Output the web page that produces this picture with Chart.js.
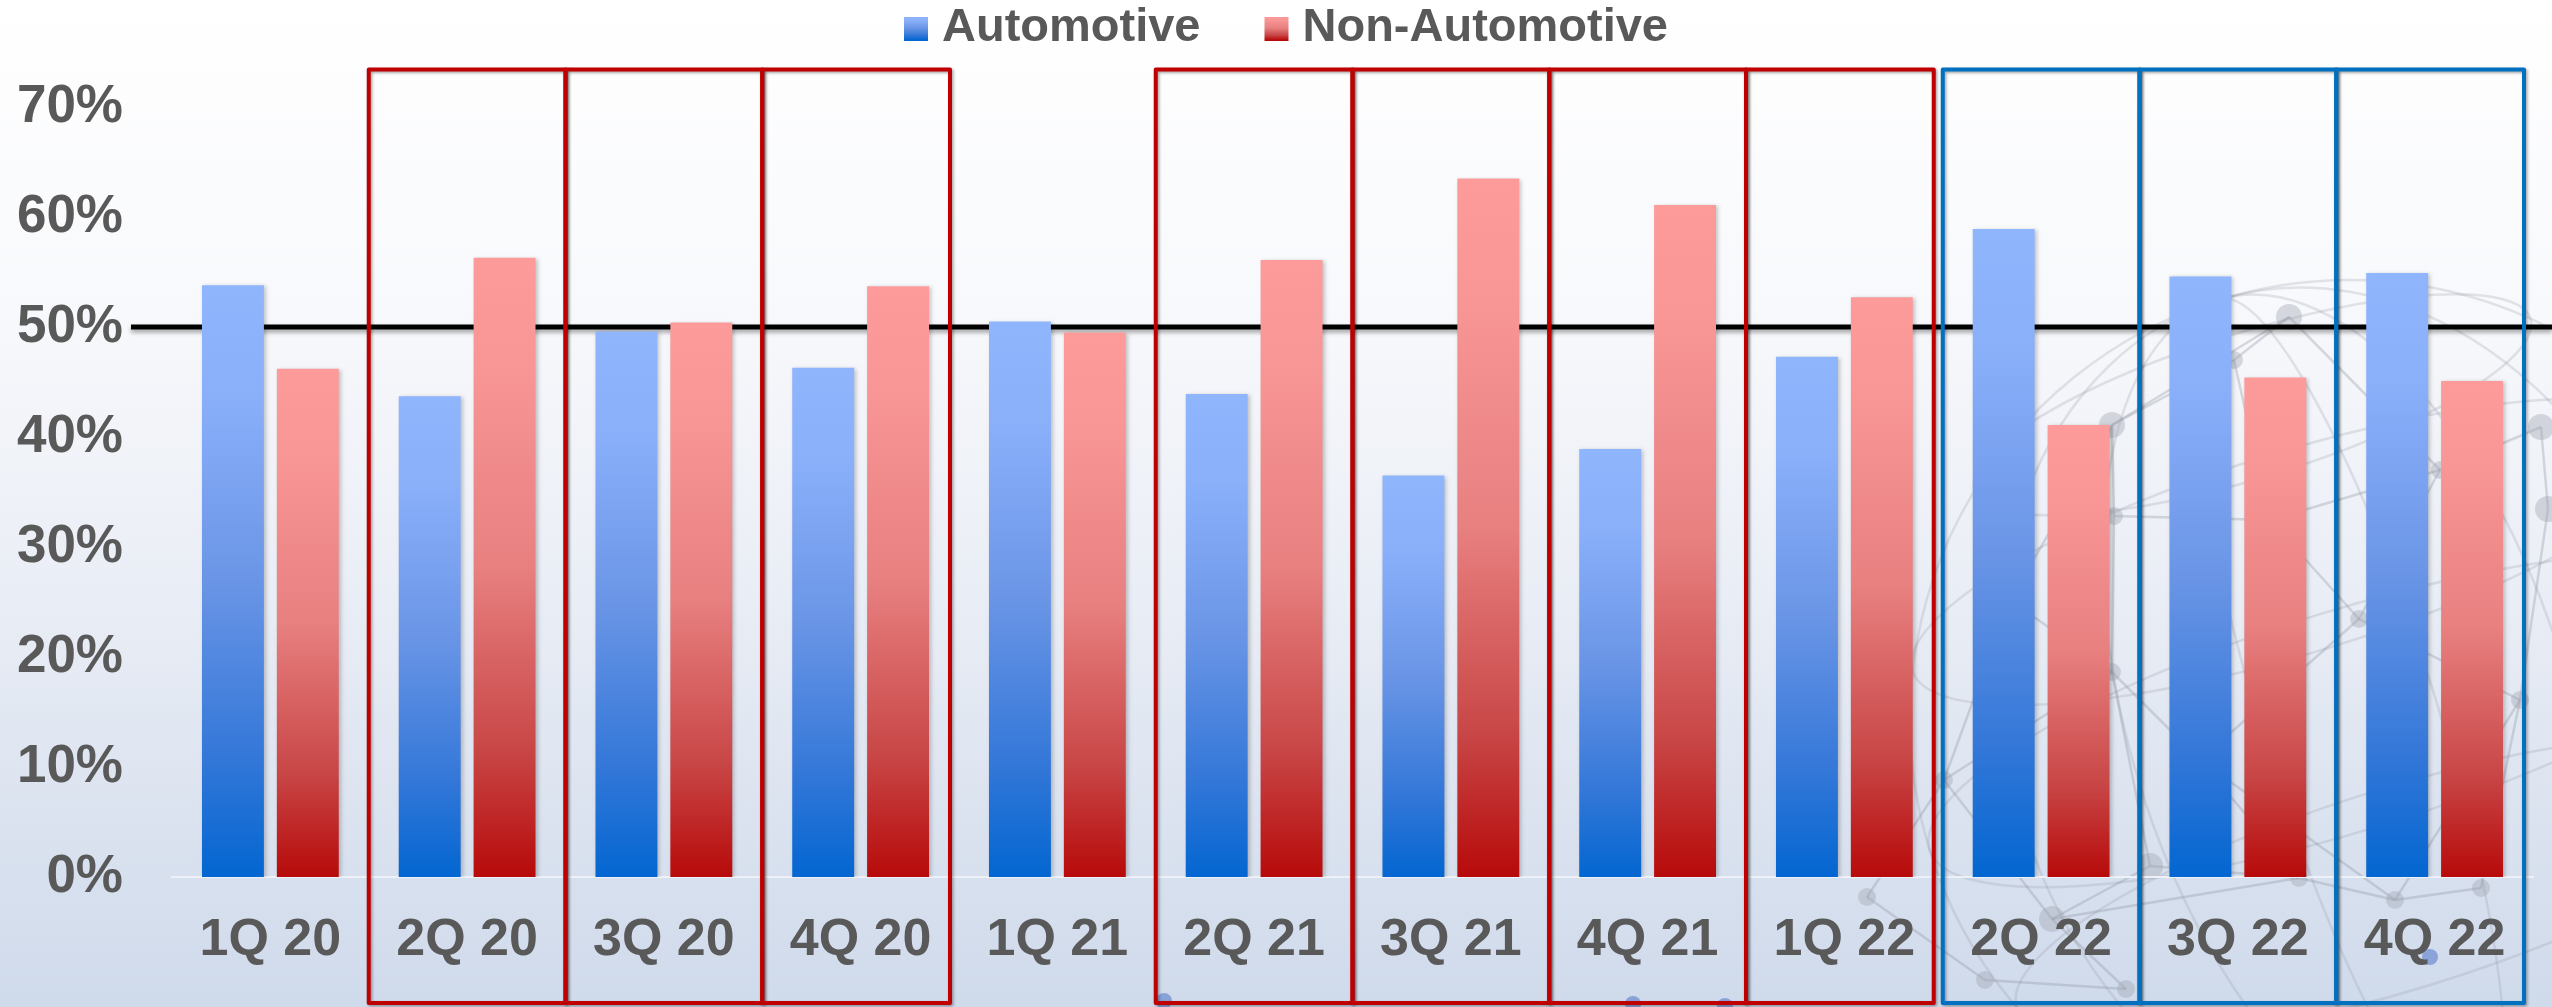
<!DOCTYPE html>
<html>
<head>
<meta charset="utf-8">
<script src="https://cdn.jsdelivr.net/npm/chart.js@4/dist/chart.umd.min.js"></script>
<style>
  html, body { margin: 0; padding: 0; background: #ffffff; }
  #wrap { width: 2552px; height: 1007px; position: relative; }
</style>
</head>
<body>
<div id="wrap"><canvas id="chart" width="2552" height="1007"></canvas></div>
<script>
// Quarterly revenue mix, automotive vs. non-automotive (% of total)
const quarters = ['1Q 20', '2Q 20', '3Q 20', '4Q 20', '1Q 21', '2Q 21', '3Q 21', '4Q 21', '1Q 22', '2Q 22', '3Q 22', '4Q 22'];
const automotive    = [53.8, 43.7, 49.6, 46.3, 50.5, 43.9, 36.5, 38.9, 47.3, 58.9, 54.6, 54.9];
const nonAutomotive = [46.2, 56.3, 50.4, 53.7, 49.5, 56.1, 63.5, 61.1, 52.7, 41.1, 45.4, 45.1];
const seriesNames = ['Automotive', 'Non-Automotive'];
const yTickValues = [0, 10, 20, 30, 40, 50, 60, 70];
const parityLevel = 50;
// Highlighted quarters
const redFramed  = ['2Q 20', '3Q 20', '4Q 20', '2Q 21', '3Q 21', '4Q 21', '1Q 22'];
const blueFramed = ['2Q 22', '3Q 22', '4Q 22'];
const frameTopValue = 73.4;

const FONT = '"Liberation Sans", Arial, Helvetica, sans-serif';
const TEXT = '#595959';

const blueStops = [[0, '#8fb5fd'], [0.18, '#8ab0fa'], [0.5, '#6a95e6'], [0.8, '#3377d8'], [1, '#0366d1']];
const redStops  = [[0, '#fd9b9b'], [0.18, '#f89595'], [0.5, '#e88080'], [0.8, '#c84545'], [1, '#b70a0a']];

function barFill(stops, solid) {
  return (c) => {
    const chart = c.chart;
    if (!chart.chartArea || c.type !== 'data') return solid;
    const y = chart.scales.y;
    const top = y.getPixelForValue(c.raw);
    const base = y.getPixelForValue(0);
    const g = chart.ctx.createLinearGradient(0, top, 0, base);
    stops.forEach(([o, col]) => g.addColorStop(o, col));
    return g;
  };
}

// Decorative network globe in the lower right of the page
const globeNodes = [
  [2112, 425], [2114, 516], [2112, 672], [2289, 317], [2234, 360], [2359, 619],
  [2541, 427], [2395, 900], [2299, 878], [2150, 866], [1944, 780], [1867, 897],
  [2052, 919], [2126, 989], [2481, 888], [2548, 509], [2010, 600], [2440, 470],
  [2200, 760], [1985, 980], [2520, 700], [2270, 520]
];
const globeEdges = [
  [0, 1], [1, 2], [0, 4], [4, 3], [3, 17], [17, 6], [6, 15], [1, 21], [21, 5], [5, 17],
  [2, 18], [18, 5], [5, 20], [20, 14], [14, 7], [7, 8], [8, 9], [9, 12], [12, 13], [13, 19],
  [19, 11], [11, 10], [10, 16], [16, 0], [16, 2], [2, 9], [18, 8], [18, 7], [20, 15], [4, 21],
  [10, 12], [12, 8], [0, 3], [21, 17], [2, 10], [7, 20]
];
const accentDots = [[1164, 1001], [1633, 1004], [1725, 1006], [2430, 957]];

const backdrop = {
  id: 'backdrop',
  beforeDraw(chart) {
    const ctx = chart.ctx, W = chart.width, H = chart.height;
    ctx.save();
    const g = ctx.createLinearGradient(0, 0, 0, H);
    g.addColorStop(0, '#ffffff');
    g.addColorStop(0.3, '#f8f9fc');
    g.addColorStop(0.6, '#e9edf5');
    g.addColorStop(1, '#cfdaeb');
    ctx.fillStyle = g;
    ctx.fillRect(0, 0, W, H);

    // sphere wireframe
    ctx.save();
    ctx.translate(2350, 720);
    ctx.rotate(-0.3);
    const r = 440;
    ctx.strokeStyle = 'rgba(150,156,168,0.25)';
    ctx.lineWidth = 2.5;
    ctx.beginPath(); ctx.arc(0, 0, r, 0, Math.PI * 2); ctx.stroke();
    [0.2, 0.5, 0.78].forEach(k => {
      ctx.beginPath(); ctx.ellipse(0, 0, r * k, r, 0, 0, Math.PI * 2); ctx.stroke();
    });
    [-0.75, -0.4, 0, 0.4].forEach(k => {
      const yy = r * k, rx = Math.sqrt(r * r - yy * yy);
      ctx.beginPath(); ctx.ellipse(0, yy, rx, rx * 0.25, 0, 0, Math.PI * 2); ctx.stroke();
    });
    ctx.restore();

    // network links and nodes
    ctx.strokeStyle = 'rgba(140,146,158,0.32)';
    ctx.lineWidth = 2.5;
    globeEdges.forEach(([a, b]) => {
      ctx.beginPath();
      ctx.moveTo(globeNodes[a][0], globeNodes[a][1]);
      ctx.lineTo(globeNodes[b][0], globeNodes[b][1]);
      ctx.stroke();
    });
    ctx.fillStyle = 'rgba(160,166,178,0.4)';
    globeNodes.forEach(([x, y], i) => {
      ctx.beginPath(); ctx.arc(x, y, i % 3 === 0 ? 13 : 9, 0, Math.PI * 2); ctx.fill();
    });
    ctx.fillStyle = 'rgba(90,125,205,0.6)';
    accentDots.forEach(([x, y]) => {
      ctx.beginPath(); ctx.arc(x, y, 8, 0, Math.PI * 2); ctx.fill();
    });
    ctx.restore();
  }
};

// Horizontal 50% reference line, behind the bars
const parityLine = {
  id: 'parityLine',
  beforeDatasetsDraw(chart) {
    const ctx = chart.ctx, y = chart.scales.y.getPixelForValue(parityLevel);
    ctx.save();
    ctx.shadowColor = 'rgba(0,0,0,0.35)';
    ctx.shadowBlur = 4;
    ctx.shadowOffsetY = 3;
    ctx.strokeStyle = '#000000';
    ctx.lineWidth = 5;
    ctx.beginPath();
    ctx.moveTo(chart.chartArea.left - 41, y);
    ctx.lineTo(chart.width, y);
    ctx.stroke();
    ctx.restore();
    // soft drop shadow for the bars
    ctx.save();
    ctx.shadowColor = 'rgba(0,0,0,0.22)';
    ctx.shadowBlur = 4;
    ctx.shadowOffsetX = 2;
    ctx.shadowOffsetY = 1;
  },
  afterDatasetsDraw(chart) {
    chart.ctx.restore();
  }
};

// Frames around highlighted quarters
function drawFrames(chart, labels, color) {
  const ctx = chart.ctx, x = chart.scales.x, y = chart.scales.y;
  const half = (x.getPixelForValue(1) - x.getPixelForValue(0)) / 2;
  const top = y.getPixelForValue(frameTopValue);
  const bottom = chart.height - 4;
  ctx.save();
  ctx.strokeStyle = color;
  ctx.lineWidth = 4;
  ctx.lineJoin = 'round';
  ctx.shadowColor = 'rgba(0,0,0,0.35)';
  ctx.shadowBlur = 3;
  ctx.shadowOffsetX = 1.5;
  ctx.shadowOffsetY = 1.5;
  labels.forEach(lbl => {
    const i = quarters.indexOf(lbl);
    const endsRun = !labels.includes(quarters[i + 1]);
    const cxp = x.getPixelForValue(i);
    const l = cxp - half;
    const r = cxp + half - (endsRun ? 9 : 0);
    ctx.strokeRect(l, top, r - l, bottom - top);
  });
  ctx.restore();
}

const frames = {
  id: 'frames',
  afterDraw(chart) {
    drawFrames(chart, redFramed, '#c00000');
    drawFrames(chart, blueFramed, '#0070c0');
  }
};

// Legend row centred above the plot
const legendRow = {
  id: 'legendRow',
  afterDraw(chart) {
    const ctx = chart.ctx;
    ctx.save();
    ctx.font = 'bold 47px ' + FONT;
    ctx.textBaseline = 'middle';
    const box = 24, gapText = 14, gapItem = 64, cy = 28;
    const widths = seriesNames.map(n => ctx.measureText(n).width);
    const total = widths.reduce((a, w) => a + box + gapText + w, 0) + gapItem;
    let x = chart.width / 2 + 10 - total / 2;
    const stopsList = [blueStops, redStops];
    seriesNames.forEach((name, k) => {
      const g = ctx.createLinearGradient(0, cy - box / 2, 0, cy + box / 2);
      stopsList[k].forEach(([o, col]) => g.addColorStop(o, col));
      ctx.fillStyle = g;
      ctx.fillRect(x, cy - box / 2 + 1, box, box);
      x += box + gapText;
      ctx.fillStyle = TEXT;
      ctx.fillText(name, x, cy);
      x += widths[k] + gapItem;
    });
    ctx.restore();
  }
};

new Chart(document.getElementById('chart'), {
  type: 'bar',
  data: {
    labels: quarters,
    datasets: [
      { label: seriesNames[0], data: automotive, backgroundColor: barFill(blueStops, '#6a95e6') },
      { label: seriesNames[1], data: nonAutomotive, backgroundColor: barFill(redStops, '#e88080') }
    ]
  },
  options: {
    responsive: false,
    animation: false,
    devicePixelRatio: 1,
    categoryPercentage: 0.761,
    barPercentage: 0.827,
    layout: { padding: { top: 107, right: 19, bottom: 0, left: 0 } },
    plugins: { legend: { display: false }, tooltip: { enabled: false } },
    scales: {
      x: {
        grid: { display: false, drawTicks: false },
        border: { display: true, color: '#eef1f7', width: 2 },
        ticks: {
          color: TEXT, font: { family: FONT, size: 52, weight: 'bold' },
          padding: 32, maxRotation: 0, autoSkip: false
        },
        afterFit(s) { s.height = 130; }
      },
      y: {
        min: 0, max: 70,
        grid: { display: false, drawTicks: false },
        border: { display: false },
        afterBuildTicks(s) { s.ticks = yTickValues.map(v => ({ value: v })); },
        ticks: {
          color: TEXT, font: { family: FONT, size: 53, weight: 'bold' },
          padding: 49,
          callback: v => v + '%'
        },
        afterFit(s) { s.width = 172; }
      }
    }
  },
  plugins: [backdrop, parityLine, frames, legendRow]
});
</script>
</body>
</html>
